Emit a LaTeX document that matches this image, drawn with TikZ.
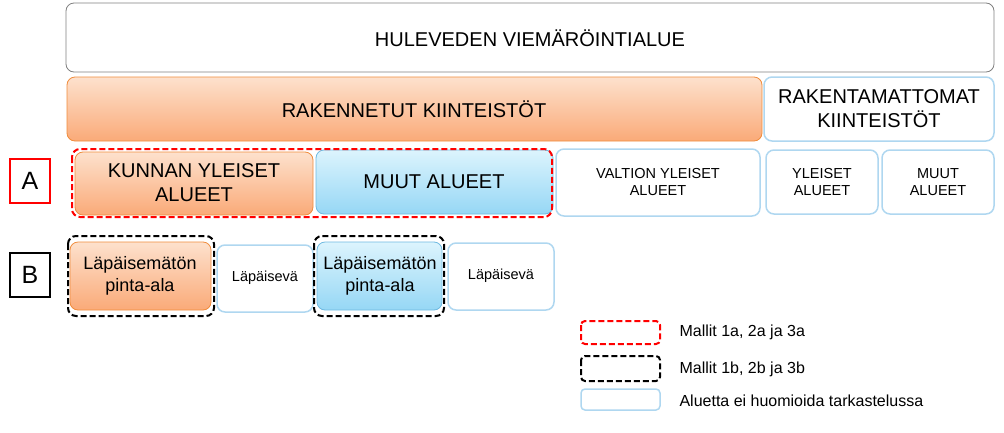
\documentclass[tikz,border=0pt]{standalone}
\usepackage{fontspec}
\setmainfont{Liberation Sans}
\definecolor{lb}{RGB}{175,215,240}
\definecolor{orl}{RGB}{253,225,205}
\definecolor{ord}{RGB}{250,170,120}
\definecolor{orb}{RGB}{240,140,60}
\definecolor{bll}{RGB}{220,244,253}
\definecolor{bld}{RGB}{150,215,245}
\definecolor{blb}{RGB}{110,185,225}
\tikzset{
  bx/.style={rounded corners=8pt},
  wbox/.style={bx,draw=lb,line width=1.5pt,fill=white},
  obox/.style={bx,draw=orb,line width=0.8pt,top color=orl,bottom color=ord},
  bbox/.style={bx,draw=blb,line width=0.8pt,top color=bll,bottom color=bld},
  rdash/.style={draw=red,line width=2pt,dash pattern=on 6pt off 3pt,rounded corners=8pt},
  kdash/.style={draw=black,line width=2pt,dash pattern=on 6pt off 3pt,rounded corners=8pt},
  big/.style={align=center,font=\fontsize{20}{24}\selectfont},
  med/.style={align=center,font=\fontsize{18}{22}\selectfont},
  sm/.style={align=center,font=\fontsize{14.5}{17}\selectfont},
  leg/.style={anchor=west,font=\fontsize{16}{19}\selectfont},
  lab/.style={draw,line width=1.2pt,minimum width=40pt,minimum height=44pt,font=\fontsize{25}{25}\selectfont}
}
\begin{document}
\begin{tikzpicture}[x=1pt,y=-1pt]
\useasboundingbox (0,0) rectangle (1004,432);
\path[bx,draw=gray,line width=0.8pt,fill=white] (66,3) rectangle (994,72);
\node[big] (top) at (530,38) {HULEVEDEN VIEMÄRÖINTIALUE};
\path[obox] (67,77) rectangle (762,141);
\node[big] (rak) at (414,109) {RAKENNETUT KIINTEISTÖT};
\path[wbox] (764,77) rectangle (994,141);
\node[big] (rakm) at (879,109) {RAKENTAMATTOMAT\\KIINTEISTÖT};
\path[obox] (75,152) rectangle (313,215);
\node[big] (kun) at (194,183) {KUNNAN YLEISET\\ALUEET};
\path[bbox] (316,150) rectangle (553,214);
\node[big] (muut) at (434,182) {MUUT ALUEET};
\path[rdash] (72,149) rectangle (552,217);
\path[wbox] (556,149) rectangle (760,216);
\node[sm] (val) at (658,182) {VALTION YLEISET\\ALUEET};
\path[wbox] (766,150) rectangle (878,214);
\node[sm] (yl) at (822,182) {YLEISET\\ALUEET};
\path[wbox] (882,150) rectangle (994,214);
\node[sm] (mu2) at (938,182) {MUUT\\ALUEET};
\node[lab,draw=red] (A) at (30,181) {A};
\node[lab,draw=black] (B) at (30,275) {B};
\path[obox] (70,242) rectangle (211,310);
\node[med] (l1) at (140,276) {Läpäisemätön\\pinta-ala};
\path[kdash] (68,236) rectangle (214,316);
\path[wbox] (217,245) rectangle (313,312);
\node[sm] (p1) at (265,278) {Läpäisevä};
\path[bbox] (317,242) rectangle (442,310);
\node[med] (l2) at (380,276) {Läpäisemätön\\pinta-ala};
\path[kdash] (314,236) rectangle (444,316);
\path[wbox] (448,243) rectangle (554,310);
\node[sm] (p2) at (501,276) {Läpäisevä};
\path[rdash,rounded corners=4pt] (581,321) rectangle (660,344);
\node[leg] (m1) at (676,332) {Mallit 1a, 2a ja 3a};
\path[kdash,rounded corners=4pt] (581,356) rectangle (660,381);
\node[leg] (m2) at (676,369) {Mallit 1b, 2b ja 3b};
\path[wbox,rounded corners=4pt] (581,389) rectangle (660,410);
\node[leg] (m3) at (676,401) {Aluetta ei huomioida tarkastelussa};
\end{tikzpicture}
\end{document}
